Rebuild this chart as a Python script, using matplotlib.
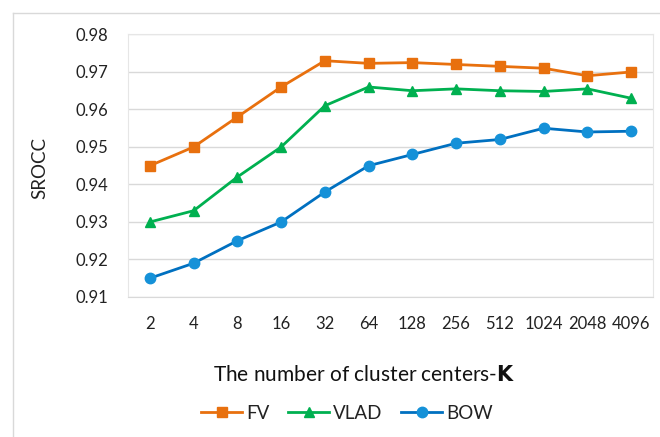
import matplotlib
matplotlib.use("Agg")
import matplotlib.pyplot as plt
from matplotlib.lines import Line2D

K_LABELS = ["2", "4", "8", "16", "32", "64", "128", "256", "512", "1024", "2048", "4096"]
FV = [0.945, 0.950, 0.958, 0.966, 0.973, 0.9723, 0.9725, 0.972, 0.9715, 0.971, 0.969, 0.970]
VLAD = [0.930, 0.933, 0.942, 0.950, 0.961, 0.966, 0.965, 0.9655, 0.965, 0.9648, 0.9655, 0.963]
BOW = [0.915, 0.919, 0.925, 0.930, 0.938, 0.945, 0.948, 0.951, 0.952, 0.955, 0.954, 0.9542]
Y_TICKS = [0.91, 0.92, 0.93, 0.94, 0.95, 0.96, 0.97, 0.98]

plt.rcParams["font.family"] = ["Lato", "DejaVu Sans"]

fig = plt.figure(figsize=(6.6, 4.37), dpi=100)
ax = fig.add_axes([0.1939, 0.3204, 0.7955, 0.6007])

# outer chart border (partly cropped in the original)
fig.add_artist(Line2D([13 / 660, 13 / 660], [0, 1 - 13 / 437], transform=fig.transFigure,
                      color="#D9D9D9", linewidth=1))
fig.add_artist(Line2D([13 / 660, 1], [1 - 13 / 437, 1 - 13 / 437], transform=fig.transFigure,
                      color="#D9D9D9", linewidth=1))

x = list(range(len(K_LABELS)))
ax.plot(x, FV, color="#E8700E", marker="s", markersize=7, linewidth=2, label="FV")
ax.plot(x, VLAD, color="#00B050", marker="^", markersize=7.5, linewidth=2, label="VLAD")
ax.plot(x, BOW, color="#0070C0", marker="o", markersize=7.5, linewidth=2,
        markerfacecolor="#1591D8", markeredgecolor="#1591D8", label="BOW")

ax.set_xlim(-0.5, len(K_LABELS) - 0.5)
ax.set_ylim(0.91, 0.98)
ax.set_yticks(Y_TICKS)
ax.set_yticklabels([f"{v:.2f}" for v in Y_TICKS])
ax.set_xticks(x)
ax.set_xticklabels(K_LABELS)
ax.tick_params(length=0, labelsize=12, colors="#222222")
ax.tick_params(axis="x", pad=14)
ax.tick_params(axis="y", pad=14)
ax.grid(axis="y", color="#D9D9D9", linewidth=1)
ax.set_axisbelow(True)
for side in ["top", "right", "left", "bottom"]:
    ax.spines[side].set_color("#E6E6E6")
ax.spines["bottom"].set_color("#D9D9D9")

ax.set_ylabel("SROCC", fontsize=13.5, color="#222222")
ax.yaxis.set_label_coords(-0.1676, 0.49)
ax.yaxis.label.set_va("center")
ax.set_xlabel("The number of cluster centers-$\\mathbf{K}$", fontsize=15, color="#111111")
ax.xaxis.set_label_coords(0.4495, -0.297)
ax.xaxis.label.set_va("center")
leg = ax.legend(loc="center", bbox_to_anchor=(0.417, -0.442), ncol=3, frameon=False,
                fontsize=13.5, handlelength=2.2, columnspacing=1.0, handletextpad=0.2)
for text in leg.get_texts():
    text.set_color("#222222")

fig.savefig("out.png", dpi=100)
